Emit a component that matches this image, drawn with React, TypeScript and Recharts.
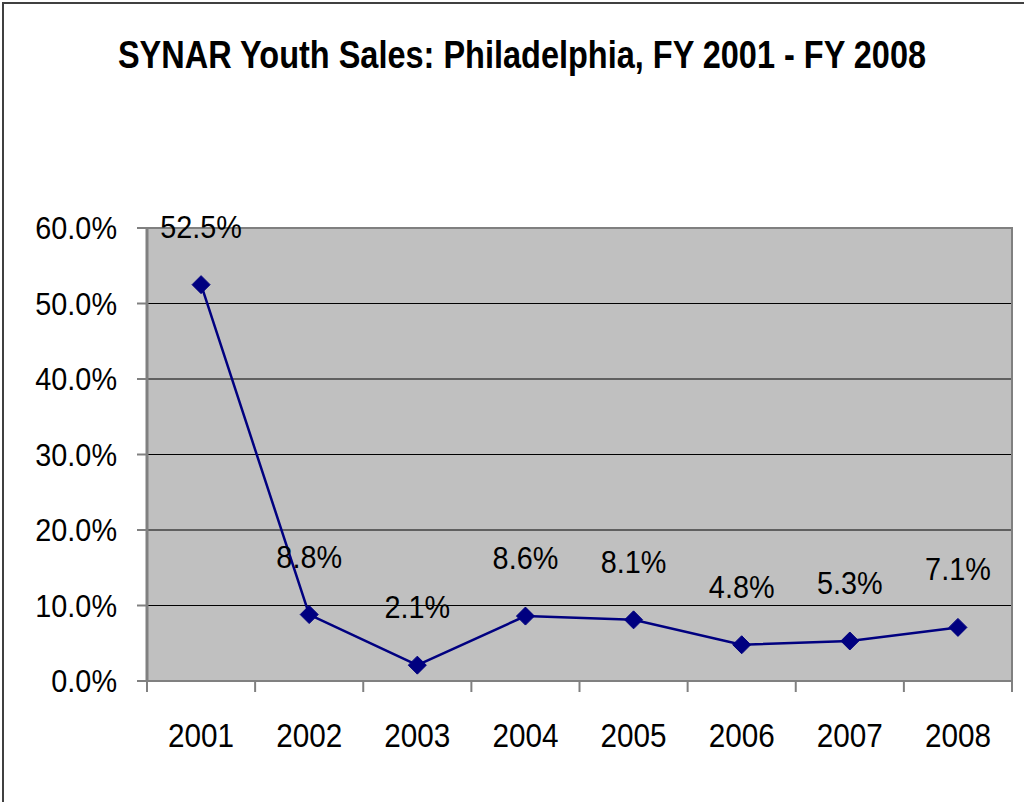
import React from 'react'
import { LineChart, Line, XAxis, YAxis, CartesianGrid, ReferenceArea, LabelList } from 'recharts'

const years = ['2001', '2002', '2003', '2004', '2005', '2006', '2007', '2008']
const youthSales = [52.5, 8.8, 2.1, 8.6, 8.1, 4.8, 5.3, 7.1]
const yTicks = [0, 10, 20, 30, 40, 50, 60]

const FONT = '"Liberation Sans", Arial, sans-serif'
const NAVY = '#000080'
const AXIS = '#808080'

const chartData = years.map((y, i) => ({ year: y, rate: youthSales[i] }))

const pct = (v: number) => `${v.toFixed(1)}%`

// narrow text, the original looks squeezed horizontally
function Squeezed({ x, y, anchor, children, size = 32 }: { x: number; y: number; anchor: 'start' | 'middle' | 'end'; children: React.ReactNode; size?: number }) {
  return (
    <g transform={`translate(${x},${y}) scale(0.9,1)`}>
      <text x={0} y={0} textAnchor={anchor} fontFamily={FONT} fontSize={size} fill="#000">
        {children}
      </text>
    </g>
  )
}

function YTick({ x, y, payload }: any) {
  return <Squeezed x={x - 18} y={y + 11} anchor="end">{pct(payload.value)}</Squeezed>
}

// label in the middle of the band, tick marks on the band edges (excel style)
function XTick({ x, y, payload, index, visibleTicksCount }: any) {
  const half = payload.offset ?? 0
  const isLast = index === visibleTicksCount - 1
  return (
    <g>
      <line x1={x - half} x2={x - half} y1={y} y2={y + 11} stroke={AXIS} strokeWidth={2} />
      {isLast && <line x1={x + half} x2={x + half} y1={y} y2={y + 11} stroke={AXIS} strokeWidth={2} />}
      <Squeezed x={x} y={y + 66} anchor="middle" size={33}>{payload.value}</Squeezed>
    </g>
  )
}

function ValueLabel({ x, y, value }: any) {
  return <Squeezed x={x} y={y - 47} anchor="middle">{pct(value)}</Squeezed>
}

function Diamond({ cx, cy }: any) {
  const r = 9
  return <polygon points={`${cx},${cy - r} ${cx + r},${cy} ${cx},${cy + r} ${cx - r},${cy}`} fill={NAVY} stroke={NAVY} />
}

export default function App() {
  return (
    <div style={{ position: 'absolute', left: 0, top: 0, width: 1024, height: 802, background: '#fff', overflow: 'hidden' }}>
      <div style={{ position: 'absolute', left: 2, top: 2, width: 1100, height: 900, borderTop: '2px solid #404040', borderLeft: '2px solid #404040' }} />
      <svg width={1024} height={100} style={{ position: 'absolute', left: 0, top: 0 }}>
        <g transform="translate(522,68) scale(0.855,1)">
          <text x={0} y={0} textAnchor="middle" fontFamily={FONT} fontWeight="bold" fontSize={38}>
            SYNAR Youth Sales: Philadelphia, FY 2001 - FY 2008
          </text>
        </g>
      </svg>
      <div style={{ position: 'absolute', left: 0, top: 0 }}>
        <LineChart width={1024} height={802} data={chartData} margin={{ top: 228, right: 12, left: 0, bottom: 0 }}>
          <CartesianGrid vertical={false} stroke="#000" fill="#C0C0C0" fillOpacity={1} />
          <XAxis dataKey="year" scale="band" height={121} tickLine={false} tickSize={0} tickMargin={0} axisLine={{ stroke: AXIS, strokeWidth: 2 }} tick={<XTick />} interval={0} />
          <YAxis width={147} domain={[0, 60]} ticks={yTicks} tickSize={10} tickLine={{ stroke: AXIS, strokeWidth: 2 }} axisLine={{ stroke: AXIS, strokeWidth: 3 }} tick={<YTick />} />
          <ReferenceArea y1={0} y2={60} fill="none" stroke={AXIS} strokeWidth={2} ifOverflow="visible" />
          <Line dataKey="rate" stroke={NAVY} strokeWidth={2.5} dot={<Diamond />} activeDot={false} isAnimationActive={false}>
            <LabelList dataKey="rate" content={<ValueLabel />} />
          </Line>
        </LineChart>
      </div>
    </div>
  )
}
